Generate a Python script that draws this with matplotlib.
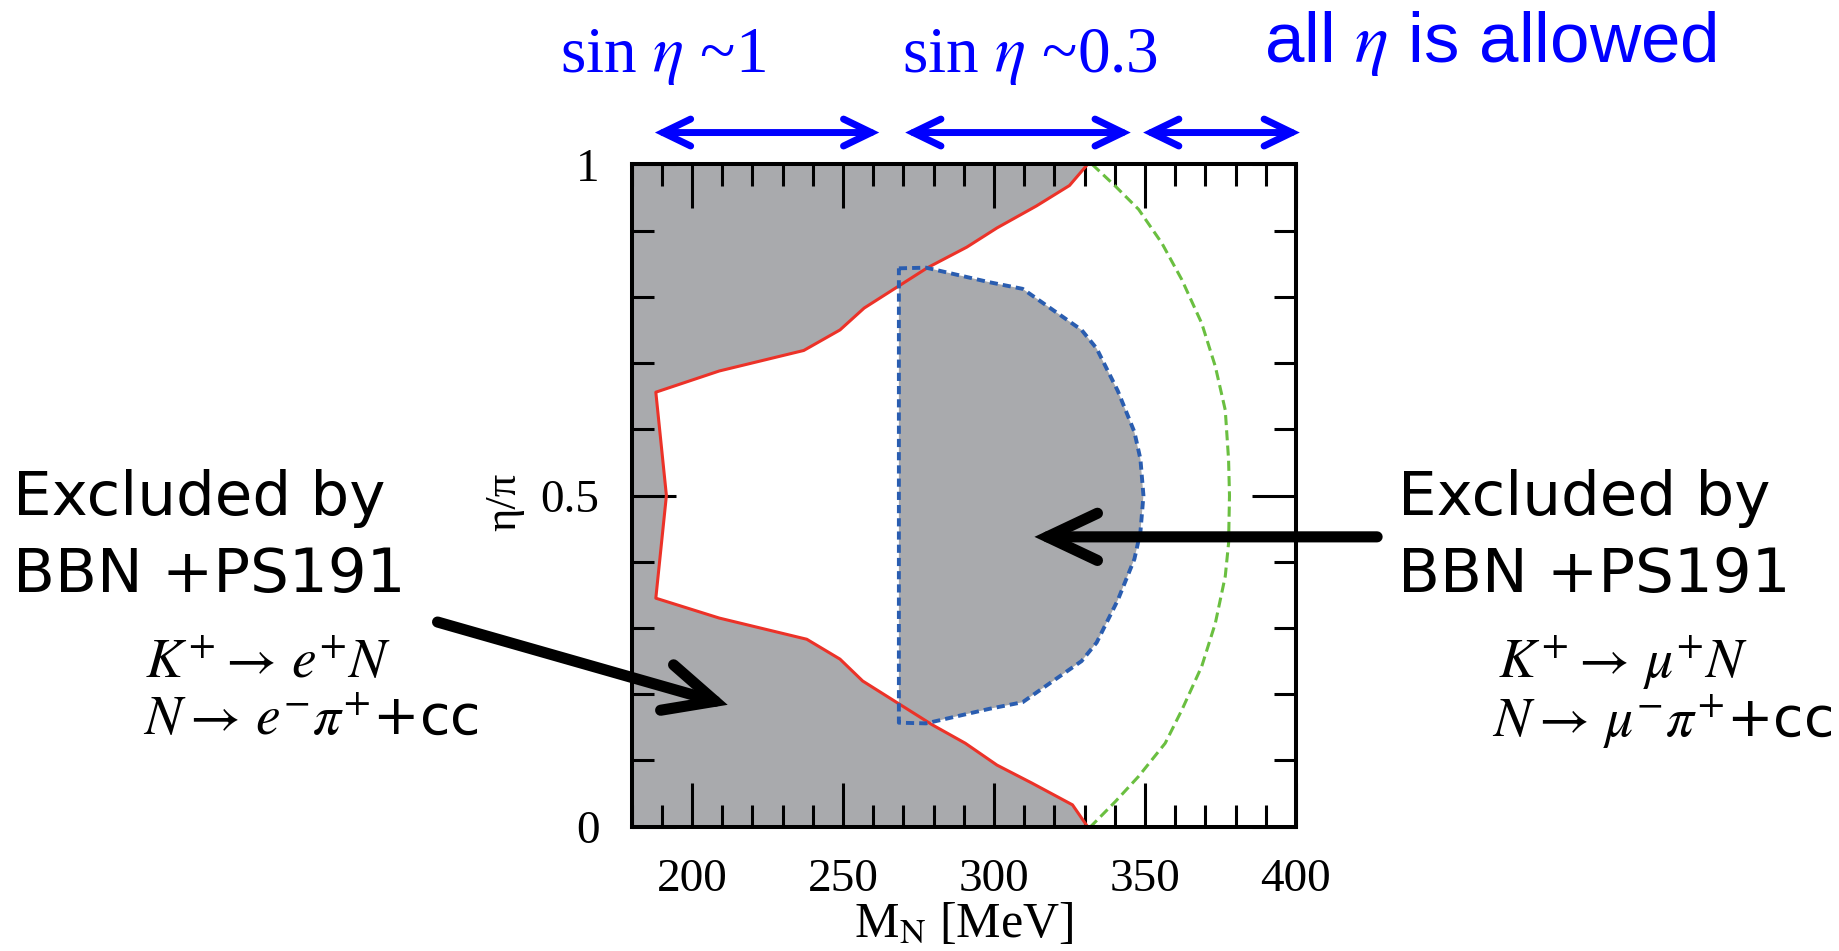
import matplotlib.pyplot as plt

plt.rcParams['mathtext.fontset'] = 'stix'
plt.rcParams['font.family'] = ['Liberation Serif', 'DejaVu Serif']

# BBN + PS191 bound, e channel (region left of the curve is excluded)
red_mass = [331, 325, 314, 301, 291, 278, 257, 249, 237, 209, 188, 191.5,
            188, 209, 238, 249, 256.5, 279.5, 290.5, 301, 312.5, 326, 331]
red_eta = [1.0, 0.968, 0.937, 0.904, 0.875, 0.844, 0.783, 0.750, 0.719, 0.688, 0.656, 0.5,
           0.345, 0.315, 0.283, 0.253, 0.220, 0.154, 0.126, 0.093, 0.066, 0.033, 0.0]

# BBN + PS191 bound, mu channel (closed excluded island)
blue_mass = [268.5, 277.5, 298.5, 309.5, 329, 334, 341, 346.5, 348.5, 349.5,
             348.5, 346.5, 341, 334, 329, 309.5, 298.5, 277.5, 268.5, 268.5]
blue_eta = [0.843, 0.844, 0.822, 0.812, 0.750, 0.722, 0.658, 0.596, 0.555, 0.5,
            0.445, 0.404, 0.342, 0.278, 0.250, 0.188, 0.178, 0.156, 0.157, 0.843]

# outer contour
green_mass = [332.5, 340.2, 347.9, 355.6, 362.2, 368.8, 373.3, 376.6, 377.7, 378,
              377.7, 376.6, 373.3, 368.8, 362.2, 356.7, 347.9, 340.2, 332]
green_eta = [1.0, 0.967, 0.932, 0.881, 0.826, 0.760, 0.695, 0.629, 0.554, 0.5,
             0.428, 0.378, 0.307, 0.242, 0.176, 0.126, 0.076, 0.038, 0.0]

x_ticks = [200, 250, 300, 350, 400]
y_ticks = [0, 0.5, 1]
y_tick_labels = ['0', '0.5', '1']

# mass bands marked above the plot
band_start = [187.7, 270.6, 349.4]
band_end = [262.0, 345.3, 401.3]

grey = '#a9aaad'

fig = plt.figure(figsize=(18.4, 9.51), dpi=100)
ax = fig.add_axes([0.3433, 0.1307, 0.3610, 0.6965])

ax.fill_betweenx(red_eta, 180, red_mass, color=grey, lw=0)
ax.fill(blue_mass, blue_eta, color=grey, lw=0)
ax.plot(red_mass, red_eta, color='#ec3228', lw=2.2)
ax.plot(blue_mass, blue_eta, color='#2a5db0', lw=2.8, linestyle=(0, (2.1, 1.3)))
ax.plot(green_mass, green_eta, color='#6abf40', lw=2.2, linestyle=(0, (3.3, 1.7)))

ax.set_xlim(180, 400)
ax.set_ylim(0, 1)
ax.set_xticks(x_ticks)
ax.set_xticks(range(180, 401, 10), minor=True)
ax.set_yticks(y_ticks)
ax.set_yticklabels(y_tick_labels)
ax.set_yticks([i / 10 for i in range(11)], minor=True)
ax.tick_params(which='both', direction='in', top=True, right=True, width=2.2, color='black')
ax.tick_params(which='major', length=32, labelsize=34, pad=23)
ax.tick_params(which='minor', length=16)
for s in ax.spines.values():
    s.set_linewidth(2.9)

ax.set_xlabel(r'M$_{\mathrm{N}}$ [MeV]', fontsize=36, labelpad=0)
ax.set_ylabel('η/π', fontsize=32)
ax.yaxis.set_label_coords(-0.161, 0.49)

# blue double arrows for the three mass bands
for a, b in zip(band_start, band_end):
    ax.annotate('', xy=(b, 1.048), xytext=(a, 1.048),
                xycoords=('data', 'axes fraction'), textcoords=('data', 'axes fraction'),
                arrowprops=dict(arrowstyle='<->,head_length=20,head_width=9.7', mutation_scale=1,
                                lw=5, color='#0000ff', shrinkA=0, shrinkB=0,
                                capstyle='round', joinstyle='miter'),
                annotation_clip=False)

fig.text(0.3603, 0.9246, r'sin $\eta$ ~1', fontsize=47, color='#0000ff', ha='center', va='baseline')
fig.text(0.5598, 0.9246, r'sin $\eta$ ~0.3', fontsize=47, color='#0000ff', ha='center', va='baseline')
fig.text(0.8098, 0.9351, r'all $\eta$ is allowed', fontsize=51, color='#0000ff', ha='center',
         va='baseline', family='Liberation Sans')

# black arrows pointing into the excluded regions
arrow_kw = dict(arrowstyle='->,head_length=36,head_width=17', mutation_scale=1, lw=8,
                color='black', shrinkA=0, shrinkB=0, capstyle='round', joinstyle='miter')
ax.annotate('', xy=(211.8, 0.184), xytext=(115.7, 0.309), arrowprops=arrow_kw, annotation_clip=False)
ax.annotate('', xy=(313.4, 0.4376), xytext=(426.9, 0.4376), arrowprops=arrow_kw, annotation_clip=False)

# annotations
for x0 in [0.0071, 0.7598]:
    fig.text(x0, 0.4585, 'Excluded by', fontsize=44, family='DejaVu Sans', va='baseline')
    fig.text(x0, 0.3775, 'BBN +PS191', fontsize=44, family='DejaVu Sans', va='baseline')

fig.text(0.0788, 0.2871, r'$K^{+}\rightarrow\,e^{+}N$', fontsize=40, va='baseline')
fig.text(0.0777, 0.2292, r'$N\rightarrow\,e^{-}\pi^{+}$+cc', fontsize=40, va='baseline',
         family='DejaVu Sans')
fig.text(0.8141, 0.2871, r'$K^{+}\rightarrow\,\mu^{+}N$', fontsize=40, va='baseline')
fig.text(0.8110, 0.2250, r'$N\rightarrow\,\mu^{-}\pi^{+}$+cc', fontsize=40, va='baseline',
         family='DejaVu Sans')

fig.savefig('out.png', dpi=100)
